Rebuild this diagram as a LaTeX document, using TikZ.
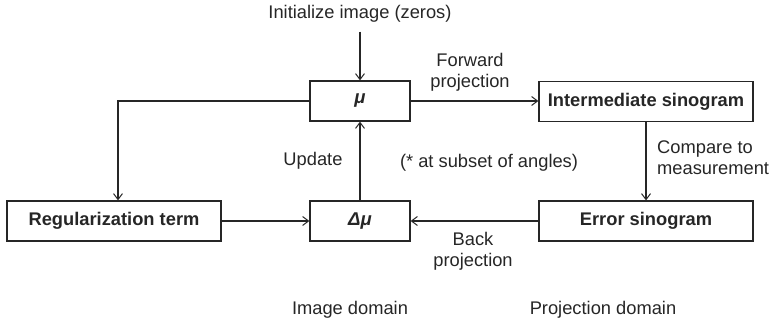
\documentclass[tikz,border=0pt]{standalone}
\usepackage{fontspec}
\setmainfont{Liberation Sans}
\usetikzlibrary{arrows.meta}
\definecolor{ink}{HTML}{262626}
\begin{document}
\begin{tikzpicture}[x=1pt,y=-1pt,
  every node/.style={text=ink,font=\fontsize{18.3}{21}\selectfont},
  block/.style={draw=ink,line width=1.2pt,minimum height=40pt,inner sep=0pt},
  wide/.style={block,minimum width=214pt,font=\fontsize{18.3}{21}\selectfont\bfseries},
  narrow/.style={block,minimum width=100pt,font=\fontsize{18.5}{21}\selectfont\bfseries\itshape},
  lbl/.style={align=center,inner sep=0pt},
  flow/.style={draw=ink,line width=1.2pt,-{Straight Barb[length=6pt,width=9pt,line width=1pt]}}]
\useasboundingbox (0,0) rectangle (783,324);

% boxes
\node[narrow] (mu)  at (360,101) {μ};
\node[narrow] (dmu) at (360,221) {Δμ};
\node[wide]   (inter) at (646,101.5) {Intermediate sinogram};
\node[wide]   (err)   at (646,221) {Error sinogram};
\node[wide]   (reg)   at (114,221) {Regularization term};

% initial estimate
\node[lbl,inner ysep=9pt] (init) at (360,14) {Initialize image (zeros)};
\draw[flow] (init.south) -- (mu.north);

% main loop
\draw[flow] (mu.east) -- (inter.west |- mu.east);
\draw[flow] (inter.south) -- (err.north);
\draw[flow] (err.west) -- (dmu.east);
\draw[flow] (dmu.north) -- (mu.south);
\draw[flow] (reg.east) -- (dmu.west);

% regularization branch
\coordinate (corner) at (118,101);
\draw[flow] (mu.west) -- (corner) -- (corner |- reg.north);

% labels
\node[lbl] (fwd)  at (470,72.5) {Forward\\projection};
\node[lbl] (upd)  at (313,161) {Update};
\node[lbl] (subs) at (489,163) {(* at subset of angles)};
\node[lbl,align=left,anchor=west] (cmp) at (657,158) {Compare to\\measurement};
\node[lbl] (back) at (473,251) {Back\\projection};
\node[lbl] (imd)  at (350,310) {Image domain};
\node[lbl] (prd)  at (603,310) {Projection domain};
\end{tikzpicture}
\end{document}
